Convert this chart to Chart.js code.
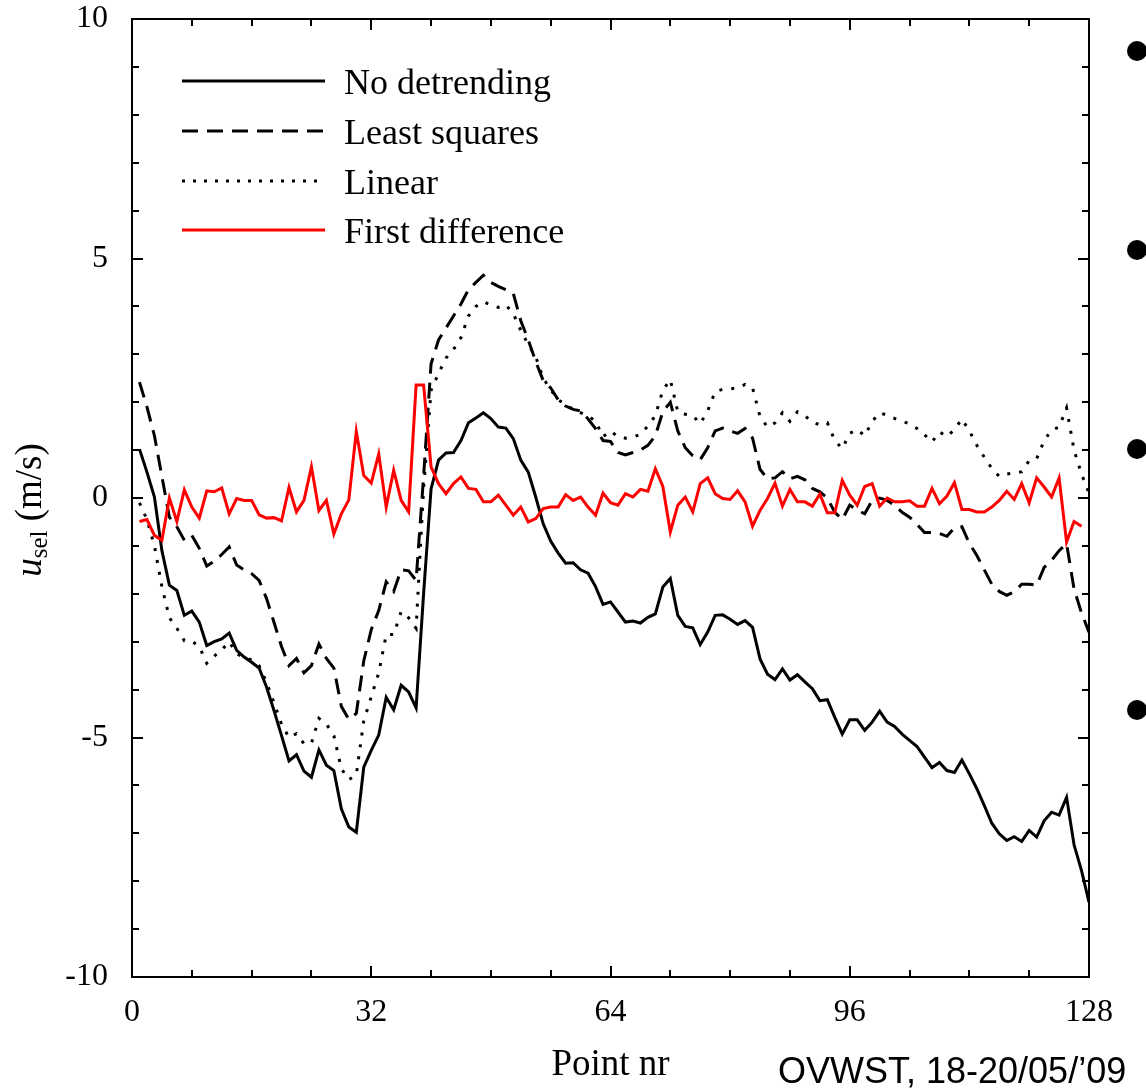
<!DOCTYPE html>
<html>
<head>
<meta charset="utf-8">
<script src="https://cdn.jsdelivr.net/npm/chart.js@4.4.1/dist/chart.umd.min.js"></script>
<style>
  body { margin: 0; background: #fff; }
  #wrap { position: relative; width: 1146px; height: 1088px; }
</style>
</head>
<body>
<div id="wrap"><canvas id="chart1" width="1146" height="1088"></canvas></div>
<script>
// values, point nr 1..128 (first difference has 127)
var noDetrend = [
    1.02, 0.54, 0.02, -1.1, -1.82, -1.93, -2.45, -2.36, -2.59, -3.08,
    -3.0, -2.94, -2.82, -3.18, -3.32, -3.43, -3.55, -3.95, -4.44, -4.96,
    -5.49, -5.36, -5.7, -5.83, -5.26, -5.58, -5.69, -6.49, -6.87, -6.98,
    -5.62, -5.27, -4.95, -4.16, -4.42, -3.91, -4.05, -4.38, -2.0, 0.19,
    0.79, 0.94, 0.95, 1.2, 1.57, 1.67, 1.78, 1.66, 1.48, 1.46,
    1.24, 0.79, 0.54, 0.02, -0.54, -0.9, -1.15, -1.36, -1.35, -1.5,
    -1.57, -1.85, -2.22, -2.17, -2.38, -2.59, -2.57, -2.61, -2.49, -2.42,
    -1.86, -1.68, -2.45, -2.68, -2.71, -3.06, -2.8, -2.45, -2.44, -2.53,
    -2.64, -2.56, -2.7, -3.36, -3.68, -3.79, -3.57, -3.8, -3.69, -3.84,
    -3.98, -4.23, -4.21, -4.58, -4.93, -4.63, -4.63, -4.85, -4.68, -4.45,
    -4.68, -4.77, -4.93, -5.06, -5.19, -5.41, -5.63, -5.52, -5.69, -5.73,
    -5.47, -5.76, -6.07, -6.42, -6.79, -7.01, -7.15, -7.07, -7.17, -6.94,
    -7.08, -6.74, -6.56, -6.62, -6.25, -7.24, -7.78, -8.44
];

var leastSquares = [
    2.42, 1.9, 1.3, 0.45, -0.4, -0.6, -0.88, -0.78, -1.05, -1.42,
    -1.32, -1.18, -1.02, -1.4, -1.5, -1.58, -1.72, -2.1, -2.6, -3.1,
    -3.5, -3.35, -3.65, -3.5, -3.05, -3.35, -3.55, -4.35, -4.62, -4.5,
    -3.4, -2.75, -2.35, -1.75, -1.95, -1.5, -1.52, -1.72, 0.45, 2.8,
    3.3, 3.55, 3.8, 4.05, 4.35, 4.5, 4.65, 4.5, 4.42, 4.35,
    4.27, 3.7, 3.3, 2.85, 2.45, 2.3, 2.05, 1.92, 1.85, 1.82,
    1.65, 1.45, 1.2, 1.18, 0.95, 0.9, 0.95, 1.0, 1.1, 1.3,
    1.8, 2.0, 1.4, 1.05, 0.88, 0.8, 1.05, 1.4, 1.46, 1.4,
    1.35, 1.45, 1.25, 0.6, 0.4, 0.42, 0.55, 0.4, 0.45, 0.38,
    0.2, 0.13, 0.0, -0.3, -0.45, -0.15, -0.25, -0.33, -0.05, 0.0,
    -0.05, -0.15, -0.3, -0.4, -0.55, -0.72, -0.72, -0.74, -0.8, -0.62,
    -0.6, -0.95, -1.2, -1.5, -1.8, -1.95, -2.03, -1.96, -1.8, -1.8,
    -1.82, -1.45, -1.3, -1.1, -0.95, -1.9, -2.4, -2.8
];

var linear = [
    -0.1, -0.45, -1.0, -1.85, -2.5, -2.72, -2.98, -2.99, -3.1, -3.45,
    -3.3, -3.17, -3.0, -3.25, -3.33, -3.38, -3.5, -3.85, -4.28, -4.72,
    -5.0, -4.92, -5.13, -5.12, -4.6, -4.72, -4.96, -5.65, -5.88, -5.78,
    -4.65, -4.15, -3.65, -2.85, -2.85, -2.37, -2.5, -2.72, 0.2, 2.25,
    2.6, 2.92, 3.1, 3.35, 3.8, 4.0, 4.1, 4.03, 3.98, 4.03,
    3.85, 3.5, 3.2, 2.95, 2.5, 2.26, 2.05, 1.95, 1.85, 1.78,
    1.72, 1.6, 1.28, 1.4, 1.28, 1.25, 1.27, 1.33, 1.5, 1.72,
    2.25, 2.47, 1.8, 1.75, 1.72, 1.55, 1.82, 2.22, 2.27, 2.28,
    2.3, 2.37, 2.3, 1.7, 1.48, 1.57, 1.78, 1.6, 1.8, 1.72,
    1.58, 1.53, 1.57, 1.2, 1.03, 1.35, 1.43, 1.3, 1.6, 1.78,
    1.73, 1.66, 1.6, 1.55, 1.45, 1.32, 1.17, 1.38, 1.28, 1.43,
    1.65, 1.4, 1.1, 0.85, 0.62, 0.45, 0.5, 0.52, 0.55, 0.78,
    0.82, 1.2, 1.42, 1.48, 1.88, 1.0, 0.5, 0.1
];

var firstDiff = [
    -0.49, -0.45, -0.78, -0.88, 0.0, -0.49, 0.17, -0.19, -0.42, 0.15,
    0.13, 0.21, -0.33, -0.01, -0.05, -0.05, -0.35, -0.42, -0.41, -0.48,
    0.22, -0.29, -0.05, 0.65, -0.26, -0.05, -0.75, -0.33, -0.04, 1.39,
    0.47, 0.31, 0.92, -0.19, 0.58, -0.05, -0.29, 2.36, 2.36, 0.65,
    0.3, 0.09, 0.3, 0.44, 0.2, 0.18, -0.08, -0.08, 0.06, -0.15,
    -0.36, -0.19, -0.5, -0.43, -0.22, -0.19, -0.19, 0.07, -0.05, 0.02,
    -0.19, -0.36, 0.1, -0.1, -0.15, 0.09, 0.02, 0.18, 0.14, 0.61,
    0.24, -0.71, -0.15, 0.02, -0.29, 0.3, 0.42, 0.09, -0.01, -0.03,
    0.15, -0.08, -0.59, -0.26, -0.01, 0.31, -0.17, 0.18, -0.08, -0.08,
    -0.17, 0.08, -0.31, -0.31, 0.37, 0.06, -0.15, 0.24, 0.3, -0.17,
    0.0, -0.08, -0.08, -0.06, -0.17, -0.17, 0.2, -0.12, 0.04, 0.32,
    -0.24, -0.24, -0.29, -0.29, -0.19, -0.05, 0.14, -0.03, 0.3, -0.1,
    0.42, 0.23, 0.02, 0.42, -0.92, -0.49, -0.59
];

var seriesNames = ["No detrending", "Least squares", "Linear", "First difference"];
var xTicks = [0, 32, 64, 96, 128];
var yTicks = [-10, -5, 0, 5, 10];

function toPoints(arr) {
    return arr.map(function (v, i) { return { x: i + 1, y: v }; });
}

var serif = '"Liberation Serif", "Times New Roman", serif';

// frame with inward ticks, legend, axis titles, footer
var decor = {
    id: 'decor',
    afterDraw: function (chart) {
        var ctx = chart.ctx;
        var a = chart.chartArea;
        var xs = chart.scales.x, ys = chart.scales.y;
        ctx.save();

        ctx.strokeStyle = '#000';
        ctx.lineWidth = 2;
        ctx.strokeRect(a.left, a.top, a.right - a.left, a.bottom - a.top);
        ctx.beginPath();
        for (var v = xs.min; v <= xs.max; v += 8) {
            var px = Math.round(xs.getPixelForValue(v));
            var len = v % 32 === 0 ? 11 : 7;
            ctx.moveTo(px, a.bottom); ctx.lineTo(px, a.bottom - len);
            ctx.moveTo(px, a.top); ctx.lineTo(px, a.top + len);
        }
        for (var w = ys.min; w <= ys.max; w += 1) {
            var py = Math.round(ys.getPixelForValue(w));
            var l2 = w % 5 === 0 ? 11 : 7;
            ctx.moveTo(a.left, py); ctx.lineTo(a.left + l2, py);
            ctx.moveTo(a.right, py); ctx.lineTo(a.right - l2, py);
        }
        ctx.stroke();

        // legend
        var legY = [81, 131, 181, 230];
        chart.data.datasets.forEach(function (ds, k) {
            ctx.beginPath();
            ctx.strokeStyle = ds.borderColor;
            ctx.lineWidth = 3;
            ctx.setLineDash(ds.legendDash || []);
            ctx.moveTo(182, legY[k]);
            ctx.lineTo(325, legY[k]);
            ctx.stroke();
            ctx.setLineDash([]);
            ctx.fillStyle = '#000';
            ctx.font = '36px ' + serif;
            ctx.textAlign = 'left';
            ctx.textBaseline = 'alphabetic';
            ctx.fillText(ds.label, 344, legY[k] + 12.5);
        });

        // x title
        ctx.fillStyle = '#000';
        ctx.font = '37px ' + serif;
        ctx.textAlign = 'center';
        ctx.fillText('Point nr', (a.left + a.right) / 2, 1075);

        // y title, rotated
        ctx.save();
        ctx.translate(41, 510);
        ctx.rotate(-Math.PI / 2);
        ctx.textAlign = 'left';
        ctx.font = 'italic 37px ' + serif;
        var w1 = ctx.measureText('u').width;
        ctx.font = '25px ' + serif;
        var w2 = ctx.measureText('sel').width;
        ctx.font = '37px ' + serif;
        var w3 = ctx.measureText(' (m/s)').width;
        var sx = -(w1 + w2 + w3) / 2;
        ctx.font = 'italic 37px ' + serif;
        ctx.fillText('u', sx, 0);
        ctx.font = '25px ' + serif;
        ctx.fillText('sel', sx + w1, 6);
        ctx.font = '37px ' + serif;
        ctx.fillText(' (m/s)', sx + w1 + w2, 0);
        ctx.restore();

        // footer
        ctx.font = '36px "Liberation Sans", Arial, sans-serif';
        ctx.textAlign = 'left';
        ctx.fillText('OVWST, 18-20/05/\u201909', 778, 1083);

        // bullets on the right edge
        [51, 250, 449, 710].forEach(function (by) {
            ctx.beginPath();
            ctx.ellipse(1137, by, 10, 10, 0, 0, Math.PI * 2);
            ctx.fill();
        });

        ctx.restore();
    }
};

var ctx = document.getElementById('chart1').getContext('2d');
var chart = new Chart(ctx, {
    type: 'line',
    data: {
        datasets: [
            {
                label: seriesNames[0],
                data: toPoints(noDetrend),
                borderColor: '#000000',
                borderWidth: 3,
                order: 3
            },
            {
                label: seriesNames[1],
                data: toPoints(leastSquares),
                borderColor: '#000000',
                borderWidth: 3,
                borderDash: [16, 9],
                legendDash: [16, 9],
                order: 2
            },
            {
                label: seriesNames[2],
                data: toPoints(linear),
                borderColor: '#000000',
                borderWidth: 3,
                borderDash: [3, 9],
                legendDash: [3, 8],
                order: 1
            },
            {
                label: seriesNames[3],
                data: toPoints(firstDiff),
                borderColor: '#ff0000',
                borderWidth: 3,
                order: 0
            }
        ]
    },
    options: {
        responsive: false,
        animation: false,
        devicePixelRatio: 1,
        layout: {
            padding: { left: 0, top: 19, right: 57, bottom: 0 }
        },
        elements: {
            point: { radius: 0 },
            line: { tension: 0, fill: false }
        },
        plugins: {
            legend: { display: false },
            tooltip: { enabled: false }
        },
        scales: {
            x: {
                type: 'linear',
                min: 0,
                max: 128,
                afterBuildTicks: function (scale) {
                    scale.ticks = xTicks.map(function (t) { return { value: t }; });
                },
                afterFit: function (scale) {
                    scale.height = 111;
                    scale.paddingLeft = 0;
                    scale.paddingRight = 0;
                },
                grid: { display: false, drawTicks: false },
                border: { display: false },
                ticks: {
                    padding: 16,
                    color: '#000',
                    maxRotation: 0,
                    font: { family: serif, size: 32 }
                }
            },
            y: {
                min: -10,
                max: 10,
                afterBuildTicks: function (scale) {
                    scale.ticks = yTicks.map(function (t) { return { value: t }; });
                },
                afterFit: function (scale) {
                    scale.width = 132;
                    scale.paddingTop = 0;
                    scale.paddingBottom = 0;
                },
                grid: { display: false, drawTicks: false },
                border: { display: false },
                ticks: {
                    padding: 24,
                    color: '#000',
                    font: { family: serif, size: 32 }
                }
            }
        }
    },
    plugins: [decor]
});
</script>
</body>
</html>
